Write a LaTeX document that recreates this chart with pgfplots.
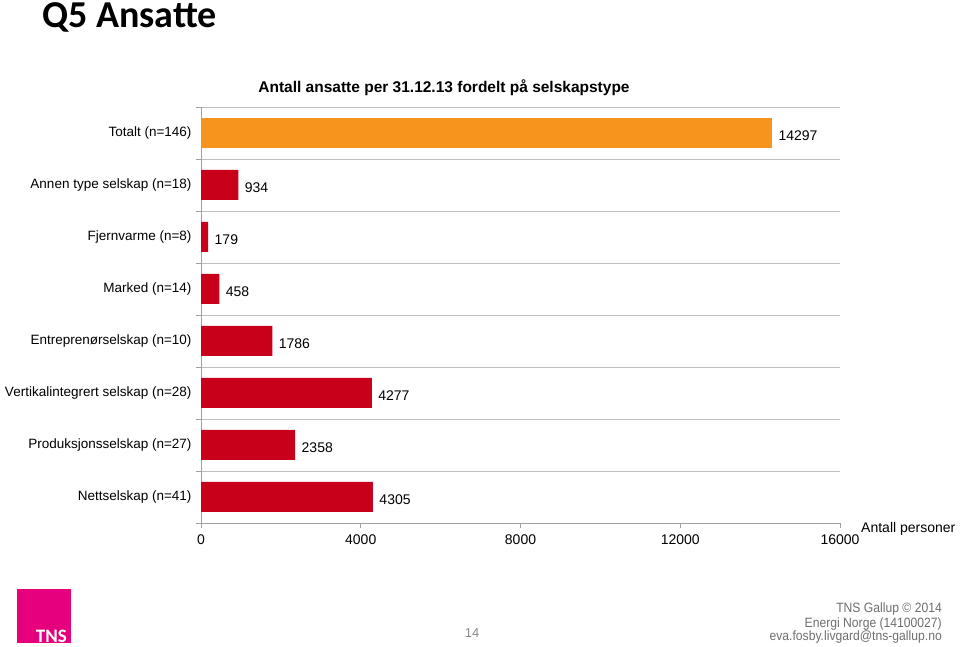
\documentclass[border=0pt]{standalone}
\usepackage{pgfplots}
\pgfplotsset{compat=1.18}
\usepackage{fontspec}
\setmainfont{Liberation Sans}
\newfontfamily\calibri{Carlito}
\newfontfamily\narrowfont[FakeStretch=0.9]{Liberation Sans}
\definecolor{tnsred}{RGB}{200,0,26}
\definecolor{tnsorange}{RGB}{247,148,29}
\definecolor{gridgray}{RGB}{190,190,190}
\definecolor{axisgray}{RGB}{160,160,160}
\definecolor{tnspink}{RGB}{230,0,126}
\definecolor{footgray}{RGB}{110,110,110}
\begin{document}
\begin{tikzpicture}[x=1pt,y=1pt]
\useasboundingbox (0,0) rectangle (960,647);
\node[anchor=base west, font=\calibri\bfseries\fontsize{38}{40}\selectfont, inner sep=0] at (42,619) {Q5 Ansatte};
\node[font=\bfseries\fontsize{15.5}{18}\selectfont] at (444,559) {Antall ansatte per 31.12.13 fordelt på selskapstype};
\begin{axis}[
  at={(201pt,124pt)}, anchor=south west, scale only axis,
  width=639pt, height=416pt,
  xbar, bar width=30pt, bar shift=0pt,
  xmin=0, xmax=16000, ymin=0.5, ymax=8.5,
  axis x line*=bottom, axis y line*=left,
  axis line style={draw=axisgray, line width=0.8pt},
  xtick={0,4000,...,16000},
  minor xtick={0,4000,...,16000},
  scaled x ticks=false,
  ytick={1,...,8},
  yticklabels={Nettselskap (n=41), Produksjonsselskap (n=27), Vertikalintegrert selskap (n=28), Entreprenørselskap (n=10), Marked (n=14), Fjernvarme (n=8), Annen type selskap (n=18), Totalt (n=146)},
  minor ytick={0.5,1.5,...,8.5},
  yminorgrids,
  minor grid style={draw=gridgray, line width=0.8pt},
  major tick length=0pt, minor tick length=5pt,
  tick align=outside,
  minor tick style={draw=axisgray, line width=0.8pt},
  /pgf/number format/1000 sep={},
  /pgf/number format/assume math mode=true,
  yticklabel style={font=\fontsize{13.5}{16}\selectfont, xshift=-6pt},
  xticklabel style={font=\fontsize{14}{16}\selectfont, yshift=-8pt},
  nodes near coords,
  nodes near coords align={horizontal},
  every node near coord/.append style={font=\fontsize{14}{16}\selectfont, black, xshift=3pt, yshift=-2.5pt},
  clip=false,
]
\addplot[fill=tnsred, draw=none] coordinates {(4305,1) (2358,2) (4277,3) (1786,4) (458,5) (179,6) (934,7)};
\addplot[fill=tnsorange, draw=none] coordinates {(14297,8)};
\end{axis}
\node[anchor=west, font=\fontsize{14}{16}\selectfont, inner sep=0] at (861,118.5) {Antall personer};
% footer
\fill[tnspink] (17,4) rectangle (71,58);
\node[anchor=south east, inner sep=0, text=white, font=\calibri\bfseries\fontsize{19}{20}\selectfont] at (67,4.5) {TNS};
\node[font=\fontsize{13}{14}\selectfont, text=footgray!80] at (472,14) {14};
\node[anchor=base east, inner sep=0, text=footgray, font=\narrowfont\fontsize{13.5}{14}\selectfont] at (942,34) {TNS Gallup © 2014};
\node[anchor=base east, inner sep=0, text=footgray, font=\narrowfont\fontsize{13.5}{14}\selectfont] at (942,19) {Energi Norge (14100027)};
\node[anchor=base east, inner sep=0, text=footgray, font=\narrowfont\fontsize{13.5}{14}\selectfont] at (942,6) {eva.fosby.livgard@tns-gallup.no};
\end{tikzpicture}
\end{document}
